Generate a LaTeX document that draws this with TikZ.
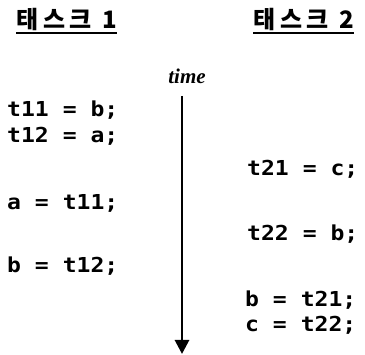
\documentclass[tikz,border=0pt]{standalone}
\usepackage{fontspec}
\usepackage{graphicx}
\usetikzlibrary{arrows.meta}
\newfontfamily\codefont{DejaVu Sans Mono}
\newfontfamily\krfont[LetterSpace=20]{Noto Sans CJK KR}
\newfontfamily\timefont{Liberation Serif}
\newcommand{\cw}[1]{\scalebox{1.12}[1]{#1}}
\begin{document}
\begin{tikzpicture}[x=1pt,y=-1pt,
  code/.style={anchor=base west, inner sep=0pt, font=\codefont\bfseries\fontsize{20.6}{24}\selectfont},
  title/.style={anchor=base west, inner sep=0pt, font=\krfont\bfseries\fontsize{24}{28}\selectfont},
  uline/.style={line width=2pt},
  timelbl/.style={anchor=base, inner sep=0pt, font=\timefont\bfseries\itshape\fontsize{21}{24}\selectfont},
  timearrow/.style={line width=2.8pt, -{Triangle[width=14pt,length=14pt]}}]
\useasboundingbox (0,0) rectangle (365,355);
% titles
\node[title] (h1) at (16,29) {태스크 1};
\node[title] (h2) at (253,29) {태스크 2};
\draw[uline] ([yshift=-4pt]h1.base west) -- ([yshift=-4pt]h1.base east);
\draw[uline] ([yshift=-4pt]h2.base west) -- ([yshift=-4pt]h2.base east);
% time arrow
\node[timelbl] (tm) at (187,84) {time};
\coordinate (a0) at (182,96);
\coordinate (a1) at (182,354);
\draw[timearrow] (a0) -- (a1);
% task 1 code
\node[code] (l1) at (7,116.5) {\cw{t11 = b;}};
\node[code] (l2) at (7,142.5) {\cw{t12 = a;}};
\node[code] (l3) at (7,209.5) {\cw{a = t11;}};
\node[code] (l4) at (7,272.5) {\cw{b = t12;}};
% task 2 code
\node[code] (r1) at (247,175.5) {\cw{t21 = c;}};
\node[code] (r2) at (247,240.5) {\cw{t22 = b;}};
\node[code] (r3) at (245,306.5) {\cw{b = t21;}};
\node[code] (r4) at (245,331.5) {\cw{c = t22;}};
\end{tikzpicture}
\end{document}
